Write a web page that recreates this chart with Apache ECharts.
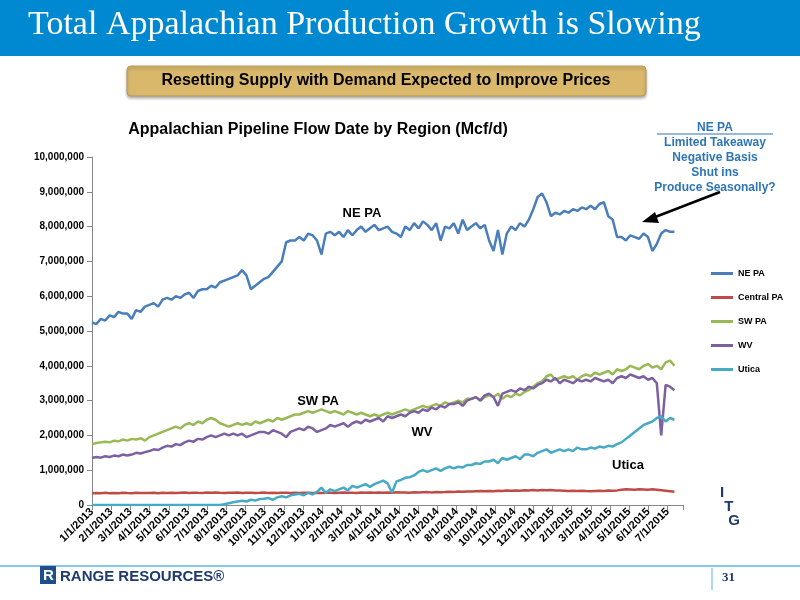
<!DOCTYPE html>
<html><head><meta charset="utf-8">
<script src="https://cdn.jsdelivr.net/npm/echarts@6/dist/echarts.min.js"></script>
<style>html,body{margin:0;padding:0;background:#fff}#c{width:800px;height:600px}</style>
</head><body><div id="c"></div>
<script>
// x tick labels (one per month)
const monthLabels = ["1/1/2013","2/1/2013","3/1/2013","4/1/2013","5/1/2013","6/1/2013","7/1/2013","8/1/2013","9/1/2013","10/1/2013","11/1/2013","12/1/2013","1/1/2014","2/1/2014","3/1/2014","4/1/2014","5/1/2014","6/1/2014","7/1/2014","8/1/2014","9/1/2014","10/1/2014","11/1/2014","12/1/2014","1/1/2015","2/1/2015","3/1/2015","4/1/2015","5/1/2015","6/1/2015","7/1/2015"];
const seriesNames = ["NE PA","Central PA","SW PA","WV","Utica"];
// weekly samples starting 1/1/2013, values in million Mcf/d
const nePA = [5.25,5.2,5.35,5.3, 5.45,5.4,5.55,5.5, 5.5,5.35,5.6,5.55,5.7, 5.75,5.8,5.7,5.9, 5.95,5.9,6.0,5.95, 6.05,6.1,5.95,6.15,6.2, 6.2,6.3,6.25,6.4, 6.45,6.5,6.55,6.6, 6.75,6.6,6.2,6.3,6.4, 6.5,6.55,6.7,6.85, 7.0,7.55,7.6,7.6, 7.7,7.6,7.8,7.75,7.6,
 7.2,7.8,7.85,7.75, 7.85,7.7,7.9,7.75, 7.9,8.0,7.85,7.95, 8.05,7.9,7.95,8.0,7.85, 7.8,7.7,8.0,7.9, 8.1,7.95,8.15,8.05, 7.9,8.1,7.6,8.0,7.95, 8.1,7.8,8.2,7.9, 8.0,8.1,7.95,8.05, 7.6,7.3,7.9,7.2,7.8, 8.0,7.9,8.1,8.0, 8.2,8.5,8.85,8.95,
 8.7,8.3,8.4,8.35,8.45, 8.4,8.5,8.45,8.55, 8.5,8.6,8.5,8.65, 8.7,8.3,8.2,7.7, 7.7,7.6,7.75,7.7,7.65, 7.8,7.7,7.3,7.5, 7.8,7.9,7.85,7.85];
const centralPA = [0.340,0.345,0.335,0.350,0.340,0.345,0.338,0.352,0.345,0.340,0.350,0.342,0.348,0.346,0.352,0.340,0.355,0.348,0.350,0.345,0.352,0.358,0.346,0.355,0.350,0.348,0.356,0.352,0.360,0.350,0.345,0.355,0.350,0.358,0.348,0.352,0.355,0.345,0.350,0.358,0.348,0.352,0.345,0.355,0.350,0.342,0.352,0.348,0.355,0.350,0.345,0.352,
 0.348,0.355,0.350,0.345,0.352,0.358,0.350,0.355,0.348,0.360,0.352,0.358,0.350,0.362,0.355,0.360,0.352,0.365,0.358,0.362,0.355,0.368,0.360,0.365,0.370,0.362,0.375,0.368,0.372,0.380,0.375,0.385,0.378,0.390,0.385,0.395,0.400,0.392,0.405,0.398,0.410,0.402,0.415,0.408,0.420,0.412,0.425,0.418,0.430,0.420,0.428,
 0.425,0.430,0.420,0.415,0.410,0.405,0.412,0.400,0.408,0.402,0.398,0.405,0.410,0.400,0.415,0.408,0.420,0.440,0.450,0.445,0.440,0.452,0.445,0.438,0.450,0.440,0.425,0.410,0.395,0.380];
const swPA = [1.75,1.78,1.8,1.82, 1.8,1.85,1.83,1.88, 1.85,1.9,1.88,1.92,1.85, 1.95,2.0,2.05,2.1, 2.15,2.2,2.25,2.2, 2.3,2.35,2.3,2.4,2.35, 2.45,2.5,2.45,2.35, 2.3,2.25,2.3,2.35, 2.3,2.35,2.3,2.4,2.35, 2.4,2.45,2.4,2.5, 2.45,2.5,2.55,2.6, 2.6,2.65,2.7,2.65,2.7,
 2.75,2.7,2.65,2.7, 2.65,2.6,2.7,2.65, 2.6,2.65,2.6,2.55, 2.6,2.55,2.6,2.65,2.6, 2.65,2.7,2.75,2.7, 2.75,2.8,2.85,2.8, 2.85,2.9,2.85,2.95,2.9, 2.95,3.0,2.95,3.05, 3.05,3.1,3.0,3.1, 3.15,3.1,3.2,3.05,3.15, 3.1,3.2,3.15,3.25, 3.3,3.4,3.5,3.55,
 3.7,3.75,3.6,3.65,3.7, 3.65,3.7,3.6,3.7, 3.75,3.7,3.8,3.75, 3.8,3.85,3.75,3.9, 3.85,3.9,4.0,3.95,3.9, 4.0,4.05,3.95,4.0, 3.9,4.1,4.15,4.0];
const wv = [1.35,1.38,1.36,1.4, 1.38,1.42,1.4,1.45, 1.42,1.45,1.5,1.48,1.52, 1.55,1.6,1.58,1.65, 1.7,1.68,1.75,1.72, 1.8,1.85,1.82,1.9,1.88, 1.95,2.0,1.95,2.0, 2.05,2.0,2.05,2.0, 2.05,1.95,2.0,2.05,2.1, 2.1,2.05,2.15,2.1, 2.05,1.95,2.1,2.15, 2.2,2.15,2.25,2.2,2.1,
 2.15,2.2,2.3,2.25, 2.3,2.35,2.25,2.35, 2.4,2.35,2.45,2.4, 2.45,2.5,2.4,2.55,2.5, 2.55,2.6,2.55,2.65, 2.7,2.65,2.75,2.7, 2.8,2.75,2.85,2.8,2.9, 2.9,2.95,2.85,3.0, 3.05,3.1,3.0,3.15, 3.2,3.1,2.85,3.2,3.25, 3.3,3.25,3.35,3.3, 3.4,3.35,3.45,3.5,
 3.6,3.55,3.65,3.5,3.6, 3.55,3.5,3.6,3.55, 3.6,3.55,3.65,3.6, 3.55,3.6,3.5,3.65, 3.7,3.65,3.75,3.7,3.65, 3.7,3.6,3.65,3.5, 2.0,3.45,3.4,3.3];
const utica = [0,0,0,0, 0,0,0,0, 0,0,0,0,0, 0,0,0,0, 0,0,0,0, 0,0,0,0,0, 0,0,0,0, 0.02,0.05,0.08,0.1, 0.12,0.1,0.15,0.13,0.17, 0.18,0.2,0.15,0.22, 0.25,0.22,0.28,0.3, 0.32,0.28,0.35,0.3,0.38,
 0.5,0.35,0.45,0.4, 0.45,0.5,0.42,0.55, 0.5,0.55,0.6,0.52, 0.6,0.65,0.7,0.62,0.35, 0.68,0.72,0.78,0.8, 0.85,0.95,1.0,0.95, 1.0,1.05,0.98,1.05,1.1, 1.05,1.1,1.08,1.15, 1.15,1.2,1.18,1.25, 1.25,1.3,1.2,1.35,1.3, 1.35,1.4,1.32,1.45, 1.45,1.4,1.5,1.55,
 1.6,1.5,1.55,1.6,1.55, 1.6,1.55,1.65,1.6, 1.6,1.65,1.62,1.68, 1.65,1.7,1.68,1.75, 1.8,1.9,2.0,2.1,2.2, 2.3,2.35,2.4,2.5, 2.55,2.4,2.5,2.45];
const colors = ["#4a7ebb","#be4b48","#98b954","#7d60a0","#46aac5"];

const allVals = [nePA, centralPA, swPA, wv, utica];
const toPts = arr => arr.map((v,i)=>[i*7/30.44, v*1e6]);
const chart = echarts.init(document.getElementById('c'));
const F = 'Liberation Sans, Arial, sans-serif';
chart.setOption({
  animation:false,
  title:{text:'Appalachian Pipeline Flow Date by Region (Mcf/d)',left:313,top:117,textAlign:'center',
    textStyle:{fontFamily:F,fontSize:16,fontWeight:'bold',color:'#000'}},
  legend:{orient:'vertical',left:706,top:264,itemGap:15,itemWidth:22,itemHeight:3,icon:'rect',
    data:seriesNames,textStyle:{fontFamily:F,fontSize:9,fontWeight:'bold',color:'#000'}},
  grid:{left:92,right:117,top:157,bottom:95},
  xAxis:{type:'value',min:0,max:30.8,interval:1,
    axisLine:{lineStyle:{color:'#888'}},axisTick:{lineStyle:{color:'#888'}},splitLine:{show:false},
    axisLabel:{rotate:45,fontFamily:F,fontSize:11,fontWeight:'bold',color:'#000',margin:5,
      formatter:v=>monthLabels[Math.round(v)]||''}},
  yAxis:{type:'value',min:0,max:10000000,interval:1000000,
    axisLine:{show:true,lineStyle:{color:'#888'}},axisTick:{show:true,lineStyle:{color:'#888'}},splitLine:{show:false},
    axisLabel:{fontFamily:F,fontSize:10,fontWeight:'bold',color:'#000',formatter:v=>v.toLocaleString('en-US')}},
  series:seriesNames.map((n,k)=>({name:n,type:'line',showSymbol:false,data:toPts(allVals[k]),
    lineStyle:{width:2.5,color:colors[k]},itemStyle:{color:colors[k]}})),
  graphic:[
    {type:'rect',shape:{x:0,y:0,width:800,height:56},style:{fill:'#0089d0'}},
    {type:'text',left:28,top:8,style:{text:'Total Appalachian Production Growth is Slowing',fill:'#fff',font:'34px "Liberation Serif", serif'}},
    {type:'rect',shape:{x:127,y:66,width:519,height:30,r:4},style:{fill:'#d9b86c',stroke:'#b8995a',lineWidth:1,shadowBlur:3,shadowColor:'rgba(0,0,0,0.3)',shadowOffsetY:2}},
    {type:'text',x:386,y:81,style:{text:'Resetting Supply with Demand Expected to Improve Prices',fill:'#000',font:'bold 16px '+F,textAlign:'center',textVerticalAlign:'middle'}},
    {type:'text',x:715,y:120,style:{text:'NE PA\nLimited Takeaway\nNegative Basis\nShut ins\nProduce Seasonally?',fill:'#2e75b6',font:'bold 12px '+F,textAlign:'center',lineHeight:15}},
    {type:'line',shape:{x1:657,y1:134,x2:773,y2:134},style:{stroke:'#2e75b6',lineWidth:1}},
    {type:'line',shape:{x1:720,y1:192,x2:650,y2:219},style:{stroke:'#000',lineWidth:2.5}},
    {type:'polygon',shape:{points:[[642,222],[655,212],[659,223]]},style:{fill:'#000'}},
    {type:'text',x:362,y:213,style:{text:'NE PA',fill:'#000',font:'bold 13px '+F,textAlign:'center',textVerticalAlign:'middle'}},
    {type:'text',x:318,y:401,style:{text:'SW PA',fill:'#000',font:'bold 13px '+F,textAlign:'center',textVerticalAlign:'middle'}},
    {type:'text',x:422,y:432,style:{text:'WV',fill:'#000',font:'bold 13px '+F,textAlign:'center',textVerticalAlign:'middle'}},
    {type:'text',x:628,y:465,style:{text:'Utica',fill:'#000',font:'bold 13px '+F,textAlign:'center',textVerticalAlign:'middle'}},
    {type:'text',x:720,y:486,style:{text:'I\n T\n  G',fill:'#1f3a6e',font:'bold 15px '+F,lineHeight:14}},
    {type:'line',shape:{x1:0,y1:566,x2:800,y2:566},style:{stroke:'#5fb4e5',lineWidth:1.5}},
    {type:'rect',shape:{x:40,y:566,width:16,height:18},style:{fill:'#1f4e8c'}},
    {type:'text',x:43,y:568,style:{text:'R',fill:'#fff',font:'bold 15px '+F}},
    {type:'text',x:60,y:569,style:{text:'RANGE RESOURCES®',fill:'#1f3a6e',font:'bold 15px '+F}},
    {type:'line',shape:{x1:712,y1:568,x2:712,y2:590},style:{stroke:'#5fb4e5',lineWidth:1}},
    {type:'text',x:722,y:571,style:{text:'31',fill:'#1f3a6e',font:'bold 13px "Liberation Serif", serif'}}
  ]
});
</script></body></html>
